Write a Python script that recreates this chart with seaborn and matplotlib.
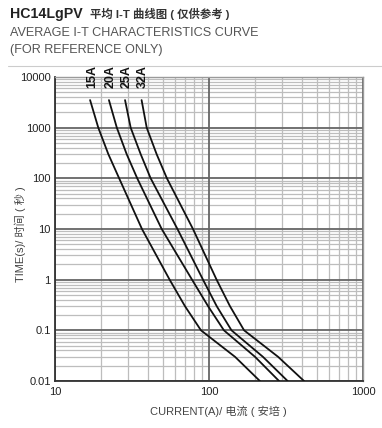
import numpy as np
import pandas as pd
import seaborn as sns
import matplotlib
matplotlib.use("Agg")
import matplotlib.pyplot as plt
from matplotlib.lines import Line2D

# ---- data ----
ratings = ["15A", "20A", "25A", "32A"]
times = [3500, 1000, 300, 100, 10, 1, 0.3, 0.1, 0.03, 0.01]
current_15A = [16.9, 19.1, 22.2, 26.1, 36.7, 55.5, 69.8, 88.7, 147.6, 214]
current_20A = [22.4, 25.2, 29.2, 34.2, 49.3, 77.6, 98.6, 125, 199, 285]
current_25A = [28.5, 31.0, 36.0, 41.8, 62.4, 91.4, 112.2, 140, 224, 324]
current_32A = [36.5, 39.4, 45.7, 53.3, 78.7, 112, 136.8, 169, 281, 414]
x_ticks = [10, 100, 1000]
x_tick_labels = ["10", "100", "1000"]
y_ticks = [0.01, 0.1, 1, 10, 100, 1000, 10000]
y_tick_labels = ["0.01", "0.1", "1", "10", "100", "1000", "10000"]

series = {"15A": current_15A, "20A": current_20A, "25A": current_25A, "32A": current_32A}
rows = []
for r in ratings:
    for i, (c, t) in enumerate(zip(series[r], times)):
        rows.append({"rating": r, "current": c, "time": t, "order": i})
df = pd.DataFrame(rows)

sns.set_theme(style="white")
plt.rcParams['font.family'] = ['Liberation Sans', 'Noto Sans CJK SC', 'DejaVu Sans']

W, H = 382, 428
fig = plt.figure(figsize=(W / 100, H / 100), dpi=100)
ax = fig.add_axes([55 / W, 1 - 381 / H, (363 - 55) / W, (381 - 77) / H])

ax.set_xscale('log')
ax.set_yscale('log')
ax.set_xlim(10, 1000)
ax.set_ylim(0.01, 10000)

# grid: minor lines from the axis, decade lines drawn on top of them
ax.grid(True, which='minor', color='#bdbdbd', linewidth=0.9)
ax.grid(False, which='major')
ax.set_axisbelow(True)
for yv in y_ticks:
    ax.axhline(yv, color='#666666', linewidth=1.3, zorder=1.5)
for xv in x_ticks:
    ax.axvline(xv, color='#666666', linewidth=1.3, zorder=1.5)

sns.lineplot(data=df, x="current", y="time", hue="rating", units="rating",
             estimator=None, sort=False, palette=["#111111"] * 4,
             linewidth=1.3, legend=False, ax=ax, zorder=3)

ax.set_xticks(x_ticks)
ax.set_xticklabels(x_tick_labels)
ax.set_yticks(y_ticks)
ax.set_yticklabels(y_tick_labels)
ax.minorticks_on()
ax.tick_params(axis='both', which='both', length=0)
ax.tick_params(axis='y', labelsize=8, labelcolor='#222222', pad=3)
ax.tick_params(axis='x', labelsize=8, labelcolor='#222222', pad=4)

for side in ['top', 'right']:
    ax.spines[side].set_color('#9a9a9a')
    ax.spines[side].set_linewidth(1.0)
for side in ['left', 'bottom']:
    ax.spines[side].set_color('#333333')
    ax.spines[side].set_linewidth(1.3)

ax.set_xlabel("CURRENT(A)/ 电流 ( 安培 )", fontsize=8, color='#444444')
ax.set_ylabel("TIME(s)/ 时间 ( 秒 )", fontsize=8, color='#444444')
ax.xaxis.set_label_coords((218 - 55) / 308, -(411 - 381) / 304)
ax.yaxis.set_label_coords((20 - 55) / 308, (381 - 234) / 304)
ax.xaxis.label.set_va('center')
ax.yaxis.label.set_va('center')

# curve labels
for r in ratings:
    ax.annotate(r, xy=(series[r][0], times[0]), xytext=(1.2, 8.5), textcoords='offset points',
                rotation=90, ha='center', va='bottom', fontsize=9, fontweight='bold',
                color='#111111', annotation_clip=False)

# header
fig.text(10 / W, 1 - 18.3 / H, "HC14LgPV", fontsize=10.2, fontweight='bold',
         color='#222222', va='baseline', ha='left')
fig.text(90 / W, 1 - 18.3 / H, "平均 I-T 曲线图 ( 仅供参考 )", fontsize=8.2, fontweight='bold',
         color='#333333', va='baseline', ha='left')
fig.text(10 / W, 1 - 36.5 / H, "AVERAGE I-T CHARACTERISTICS CURVE", fontsize=9.1,
         color='#555555', va='baseline', ha='left')
fig.text(10 / W, 1 - 52.5 / H, "(FOR REFERENCE ONLY)", fontsize=9.1,
         color='#555555', va='baseline', ha='left')
fig.add_artist(Line2D([8 / W, 1.0], [1 - 65.7 / H, 1 - 65.7 / H], color='#cccccc',
                      linewidth=0.8, transform=fig.transFigure))

fig.savefig("out.png", dpi=100)
